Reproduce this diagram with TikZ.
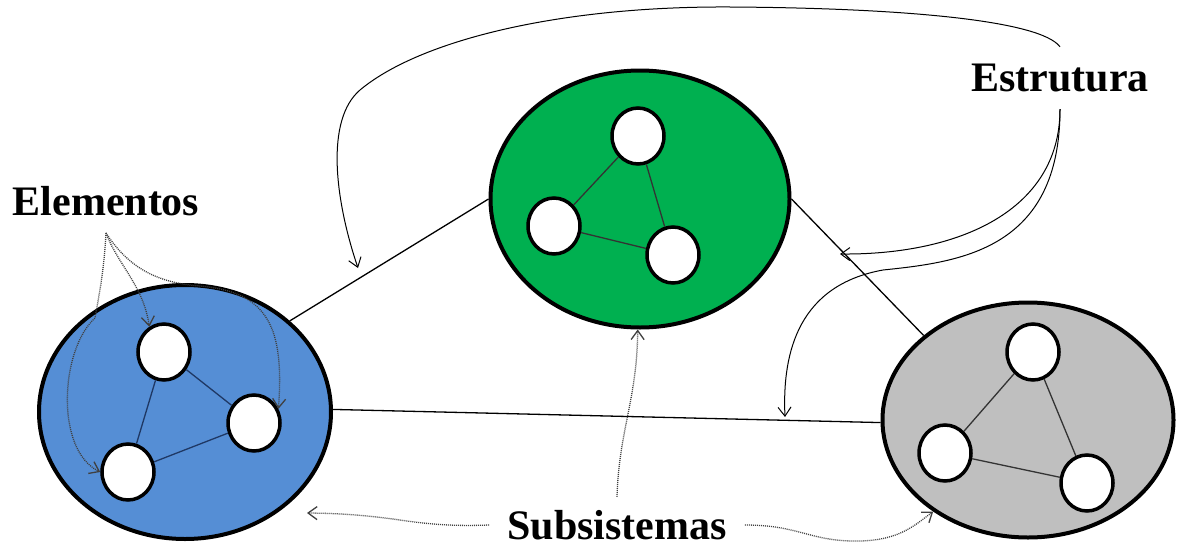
\documentclass[tikz,border=0pt]{standalone}
\usepackage{fontspec}
\setmainfont{Liberation Serif}
\usetikzlibrary{calc,arrows.meta,shapes.geometric}
\definecolor{bluec}{HTML}{558ED5}
\definecolor{greenc}{HTML}{00B050}
\definecolor{greyc}{HTML}{BFBFBF}
\definecolor{navyc}{HTML}{1F3864}
\tikzset{
  sub/.style={ellipse,draw=black,line width=4pt,inner sep=0pt},
  el/.style={ellipse,draw=black,line width=3.5pt,fill=white,minimum width=52pt,minimum height=56pt,inner sep=0pt},
  lk/.style={line width=1.3pt},
  ar/.style={-{Straight Barb[length=9pt,width=13pt]},line width=1pt},
  dar/.style={ar,densely dotted,line width=1.3pt,black!75},
  lbl/.style={font=\bfseries\fontsize{42}{46}\selectfont,inner xsep=2pt,inner ysep=17pt}
}
\newcommand{\elm}[3]{\node[el] (#1) at (#2,#3) {};}

\begin{document}
\begin{tikzpicture}[x=1pt,y=-1pt]
\useasboundingbox (0,0) rectangle (1184,549);
\node[sub,fill=bluec,minimum width=292pt,minimum height=254pt] (sb) at (185,412) {};
\node[sub,fill=greenc,minimum width=299pt,minimum height=257pt] (sg) at (640,199) {};
\node[sub,fill=greyc,minimum width=291pt,minimum height=235pt] (sc) at (1028,420) {};
\draw[lk] (sb.41) -- (sg.180);
\draw[lk] (sg.0) -- (sc.141);
\draw[lk] (sb.1) -- (sc.181);
\elm{b1}{164}{352}\elm{b2}{254}{423}\elm{b3}{128}{472}
\elm{g1}{638}{136}\elm{g2}{554}{226}\elm{g3}{673}{255}
\elm{c1}{1033}{352}\elm{c2}{945}{453}\elm{c3}{1087}{483}
\draw[lk,navyc] (b1) -- (b2) (b2) -- (b3) (b3) -- (b1);
\draw[lk,black!80] (g1) -- (g3) (g3) -- (g2) (g2) -- (g1);
\draw[lk,black!80] (c1) -- (c3) (c3) -- (c2) (c2) -- (c1);
\node[lbl] (elem) at (106,201) {Elementos};
\node[lbl] (estr) at (1060,78) {Estrutura};
\node[lbl,inner xsep=18pt,inner ysep=13pt] (subs) at (617,525) {Subsistemas};
\coordinate (t1) at (358,268);
\coordinate (t2) at (840,254);
\coordinate (t3) at (785,417);
\coordinate (pb) at (307,513);
\draw[ar] (estr.north) .. controls (1040,20) and (900,8) .. (730,7) .. controls (560,6) and (420,40) .. (360,90) .. controls (325,120) and (335,200) .. (t1);
\draw[ar] (estr.south) .. controls (1060,210) and (960,255) .. (t2);
\draw[ar] (estr.south) .. controls (1060,250) and (960,262) .. (883,270) .. controls (800,285) and (782,350) .. (t3);
\draw[dar] (elem.south) .. controls (118,265) and (143,285) .. (b1.120);
\draw[dar] (elem.south) .. controls (104,270) and (100,290) .. (95,318) .. controls (60,350) and (55,450) .. (b3.180);
\draw[dar] (elem.south) .. controls (130,270) and (160,283) .. (200,286) .. controls (270,292) and (284,330) .. (b2.30);
\draw[dar] (subs.north) .. controls (619,430) and (637,400) .. (sg.-91);
\draw[dar] (subs.west) .. controls (410,528) and (400,514) .. (pb);
\draw[dar] (subs.east) .. controls (800,525) and (810,542) .. (860,541) .. controls (900,540) and (915,525) .. (sc.224);
\end{tikzpicture}
\end{document}
